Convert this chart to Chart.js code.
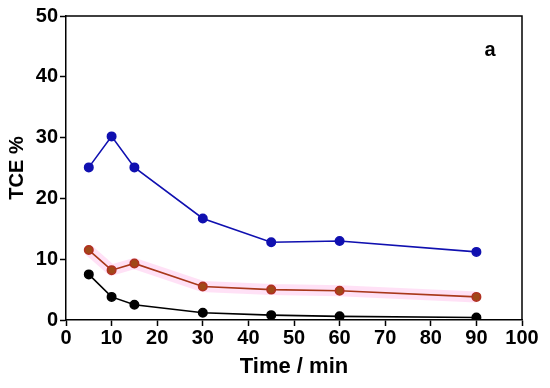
<!DOCTYPE html>
<html>
<head>
<meta charset="utf-8">
<script src="https://cdn.jsdelivr.net/npm/chart.js@4/dist/chart.umd.min.js"></script>
<style>
  html, body { margin: 0; padding: 0; background: #fff; }
  #wrap { width: 550px; height: 388px; }
</style>
</head>
<body>
<div id="wrap"><canvas id="tce"></canvas></div>
<script>
var times = [5, 10, 15, 30, 45, 60, 90];
var blueVals = [25.1, 30.2, 25.1, 16.7, 12.8, 13.0, 11.2];
var redVals = [11.5, 8.2, 9.3, 5.5, 5.0, 4.8, 3.8];
var blackVals = [7.5, 3.8, 2.5, 1.2, 0.8, 0.6, 0.4];

function pts(vals) {
  return times.map(function (t, i) { return { x: t, y: vals[i] }; });
}

// top and right frame lines, plus the panel letter
var frame = {
  id: 'frame',
  afterDraw: function (chart) {
    var a = chart.chartArea, ctx = chart.ctx;
    ctx.save();
    ctx.strokeStyle = '#000';
    ctx.lineWidth = 1.5;
    ctx.beginPath();
    ctx.moveTo(a.left, a.top);
    ctx.lineTo(a.right, a.top);
    ctx.lineTo(a.right, a.bottom);
    ctx.stroke();
    ctx.fillStyle = '#000';
    ctx.font = 'bold 20px "Liberation Sans", Arial, sans-serif';
    ctx.textAlign = 'center';
    ctx.textBaseline = 'middle';
    ctx.fillText('a', a.left + (a.right - a.left) * 0.93, a.top + 34);
    ctx.restore();
  }
};

var font = { family: '"Liberation Sans", Arial, sans-serif', weight: 'bold' };

new Chart(document.getElementById('tce'), {
  type: 'scatter',
  data: {
    datasets: [
      {
        label: 'band',
        data: pts(redVals),
        showLine: true,
        borderColor: 'rgba(255, 195, 238, 0.5)',
        borderWidth: 11,
        pointRadius: 0,
        order: 4
      },
      {
        label: 'blue',
        data: pts(blueVals),
        showLine: true,
        borderColor: '#1010b0',
        backgroundColor: '#1010b0',
        borderWidth: 1.6,
        pointRadius: 4.2,
        order: 1
      },
      {
        label: 'red',
        data: pts(redVals),
        showLine: true,
        borderColor: '#a8381a',
        backgroundColor: '#a04818',
        pointBorderColor: '#b03020',
        borderWidth: 1.6,
        pointRadius: 4.2,
        order: 2
      },
      {
        label: 'black',
        data: pts(blackVals),
        showLine: true,
        borderColor: '#000',
        backgroundColor: '#000',
        borderWidth: 1.6,
        pointRadius: 4.2,
        order: 3
      }
    ]
  },
  options: {
    responsive: true,
    maintainAspectRatio: false,
    animation: false,
    layout: { padding: { top: 16, right: 28, left: 0, bottom: 0 } },
    plugins: {
      legend: { display: false },
      tooltip: { enabled: false }
    },
    scales: {
      x: {
        type: 'linear',
        min: 0,
        max: 100,
        ticks: { stepSize: 10, color: '#000', font: Object.assign({ size: 20 }, font), padding: 0, maxRotation: 0 },
        grid: { drawOnChartArea: false, tickLength: 6, tickColor: '#000', tickWidth: 1.5 },
        border: { color: '#000', width: 1.5 },
        title: { display: true, text: 'Time / min', color: '#000', font: Object.assign({ size: 22 }, font), padding: { top: 2, bottom: 8 } },
        afterFit: function (s) { s.height = 68; }
      },
      y: {
        min: 0,
        max: 50,
        ticks: { stepSize: 10, color: '#000', font: Object.assign({ size: 20 }, font), padding: 2 },
        grid: { drawOnChartArea: false, tickLength: 6, tickColor: '#000', tickWidth: 1.5 },
        border: { color: '#000', width: 1.5 },
        title: { display: true, text: 'TCE %', color: '#000', font: Object.assign({ size: 20 }, font), padding: { top: 5, bottom: 0 } },
        afterFit: function (s) { s.width = 66; }
      }
    }
  },
  plugins: [frame]
});
</script>
</body>
</html>
